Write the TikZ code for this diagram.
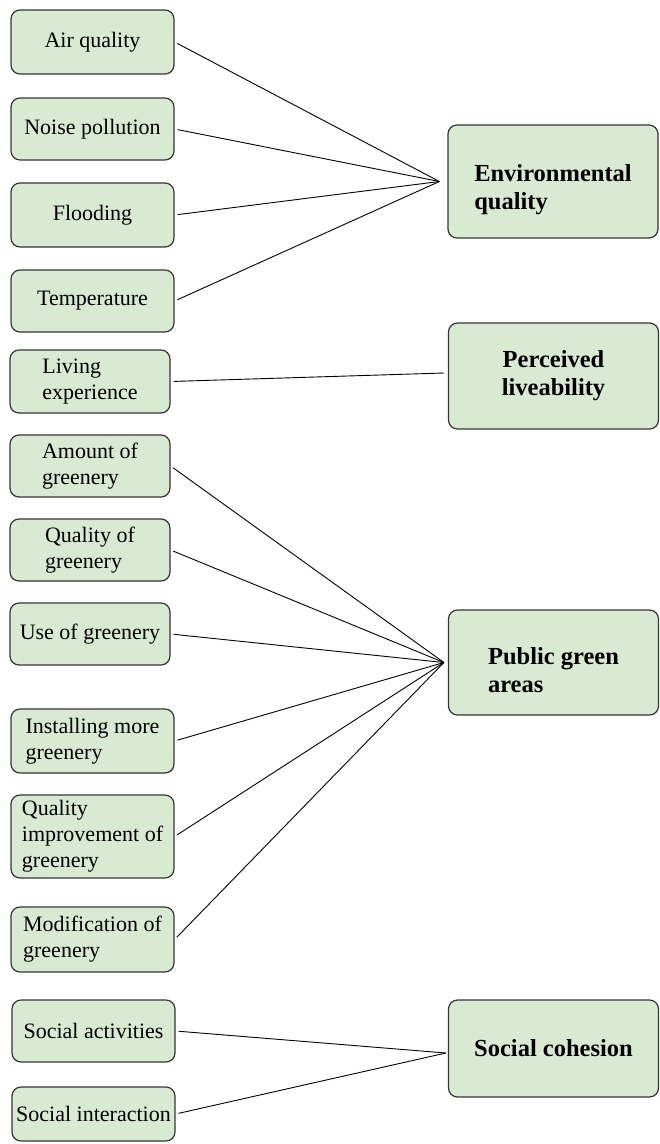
\documentclass[tikz,border=0pt]{standalone}
\usepackage{fontspec}
\setmainfont{Liberation Serif}
\definecolor{boxgreen}{HTML}{D9EAD3}
\definecolor{boxline}{HTML}{353535}
\begin{document}
\begin{tikzpicture}[x=1pt, y=-1pt,
    box/.style={rectangle, rounded corners=9pt, draw=boxline, fill=boxgreen, line width=1.2pt, inner sep=0pt, align=left},
    leaf/.style={box, minimum width=163pt, font=\fontsize{22}{26}\selectfont},
    topic/.style={box, minimum width=210pt, font=\fontsize{24.5}{28}\selectfont\bfseries},
    link/.style={line width=0.9pt, shorten <=3pt}]
    \useasboundingbox (0,0) rectangle (660,1144);
    % indicators
    \node[leaf, minimum height=64pt] (air) at (92.5,42) {Air quality};
    \node[leaf, minimum height=62pt] (noise) at (92.5,129) {Noise pollution};
    \node[leaf, minimum height=64pt] (flood) at (92.5,215) {Flooding};
    \node[leaf, minimum height=62pt] (temp) at (92.5,301) {Temperature};
    \node[leaf, minimum height=63pt, minimum width=160pt] (living) at (90,381.5) {Living\\experience};
    \node[leaf, minimum height=62pt, minimum width=160pt] (amount) at (90,466) {Amount of\\greenery};
    \node[leaf, minimum height=62pt, minimum width=160pt] (qualgreen) at (90,550) {Quality of\\greenery};
    \node[leaf, minimum height=62pt, minimum width=160pt] (usegreen) at (90,634) {Use of greenery};
    \node[leaf, minimum height=64pt] (install) at (92.5,741) {Installing more\\greenery};
    \node[leaf, minimum height=83pt] (qualimp) at (92.5,836.5) {Quality\\improvement of\\greenery};
    \node[leaf, minimum height=65pt] (modif) at (92.5,939.5) {Modification of\\greenery};
    \node[leaf, minimum height=62pt] (socact) at (93.5,1031) {Social activities};
    \node[leaf, minimum height=54pt] (socint) at (93.5,1114) {Social interaction};
    % themes
    \node[topic, minimum height=113pt, text height=61pt] (env) at (553,181.5) {Environmental\\quality};
    \node[topic, minimum height=106pt, align=center] (perc) at (553.5,376) {Perceived\\liveability};
    \node[topic, minimum height=105pt, text height=61pt] (pga) at (553.5,662.5) {Public green\\areas};
    \node[topic, minimum height=97pt] (soc) at (553.5,1048.5) {Social cohesion};
    \coordinate (envhub) at ([xshift=-8pt]env.west);
    \coordinate (perchub) at ([xshift=-4pt, yshift=3pt]perc.west);
    \coordinate (pgahub) at ([xshift=-4pt]pga.west);
    \coordinate (sochub) at ([xshift=-2pt, yshift=-4.5pt]soc.west);
    % links
    \draw[link] (air.east) -- (envhub);
    \draw[link] (noise.east) -- (envhub);
    \draw[link] (flood.east) -- (envhub);
    \draw[link] (temp.east) -- (envhub);
    \draw[link] (living.east) -- (perchub);
    \draw[link] (amount.east) -- (pgahub);
    \draw[link] (qualgreen.east) -- (pgahub);
    \draw[link] (usegreen.east) -- (pgahub);
    \draw[link] (install.east) -- (pgahub);
    \draw[link] (qualimp.east) -- (pgahub);
    \draw[link] (modif.east) -- (pgahub);
    \draw[link] (socact.east) -- (sochub);
    \draw[link] (socint.east) -- (sochub);
\end{tikzpicture}
\end{document}
